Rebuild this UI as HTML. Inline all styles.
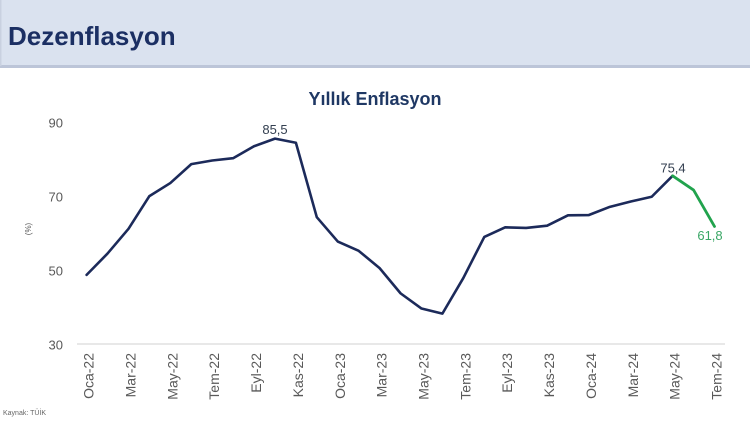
<!DOCTYPE html>
<html>
<head>
<meta charset="utf-8">
<style>
  html,body{margin:0;padding:0;background:#fff;}
  body{width:750px;height:421px;overflow:hidden;}
  svg{display:block;}
  text{font-family:"Liberation Sans",Arial,sans-serif;}
</style>
</head>
<body>
<svg width="750" height="421" viewBox="0 0 750 421" xmlns="http://www.w3.org/2000/svg">
  <!-- header -->
  <rect x="0" y="0" width="750" height="66" fill="#dae2ef"/>
  <rect x="0" y="65" width="750" height="3" fill="#bcc5d8"/>
  <rect x="0" y="0" width="1.5" height="66" fill="#c9d1e0"/>
  <text x="8" y="45" font-size="26" font-weight="bold" fill="#1b2f63">Dezenflasyon</text>

  <!-- chart title -->
  <text x="375" y="105" font-size="18" font-weight="bold" fill="#1f3864" text-anchor="middle">Yıllık Enflasyon</text>

  <!-- y axis labels -->
  <g font-size="13" fill="#595959" text-anchor="end">
    <text x="63" y="127.5">90</text>
    <text x="63" y="201.5">70</text>
    <text x="63" y="275.5">50</text>
    <text x="63" y="349.5">30</text>
  </g>
  <text transform="translate(31,229) rotate(-90)" font-size="8" fill="#595959" text-anchor="middle">(%)</text>

  <!-- x axis line -->
  <line x1="77" y1="344" x2="725" y2="344" stroke="#d9d9d9" stroke-width="1.2"/>

  <!-- x labels -->
  <g font-size="14" fill="#595959" text-anchor="end">
    <text transform="translate(93.5,353) rotate(-90)">Oca-22</text>
    <text transform="translate(135.4,353) rotate(-90)">Mar-22</text>
    <text transform="translate(177.3,353) rotate(-90)">May-22</text>
    <text transform="translate(219.2,353) rotate(-90)">Tem-22</text>
    <text transform="translate(261.0,353) rotate(-90)">Eyl-22</text>
    <text transform="translate(302.9,353) rotate(-90)">Kas-22</text>
    <text transform="translate(344.8,353) rotate(-90)">Oca-23</text>
    <text transform="translate(386.6,353) rotate(-90)">Mar-23</text>
    <text transform="translate(428.5,353) rotate(-90)">May-23</text>
    <text transform="translate(470.3,353) rotate(-90)">Tem-23</text>
    <text transform="translate(512.2,353) rotate(-90)">Eyl-23</text>
    <text transform="translate(554.1,353) rotate(-90)">Kas-23</text>
    <text transform="translate(595.9,353) rotate(-90)">Oca-24</text>
    <text transform="translate(637.8,353) rotate(-90)">Mar-24</text>
    <text transform="translate(679.6,353) rotate(-90)">May-24</text>
    <text transform="translate(721.5,353) rotate(-90)">Tem-24</text>
  </g>

  <!-- navy series -->
  <polyline fill="none" stroke="#1c2a5a" stroke-width="2.6" stroke-linejoin="round" stroke-linecap="round"
    points="86.6,274.85 107.5,253.57 128.5,228.78 149.4,196.11 170.3,183.05 191.3,164.11 212.2,160.48 233.1,158.22 254.0,146.23 275.0,138.61 295.9,142.76 316.8,217.2 337.8,241.58 358.7,250.83 379.6,268.11 400.6,293.38 421.5,308.52 442.4,313.62 463.3,278.03 484.3,236.92 505.2,227.34 526.1,227.97 547.1,225.67 568.0,215.35 588.9,215.02 609.9,206.84 630.8,201.55 651.7,196.74 672.6,175.83"/>
  <!-- green series -->
  <polyline fill="none" stroke="#21a34d" stroke-width="2.8" stroke-linejoin="round" stroke-linecap="round"
    points="672.6,175.83 693.6,190.08 714.5,226.41"/>

  <!-- data labels -->
  <text x="275" y="134" font-size="13" fill="#333f50" text-anchor="middle">85,5</text>
  <text x="673" y="172.5" font-size="13" fill="#333f50" text-anchor="middle">75,4</text>
  <text x="710" y="240" font-size="13" fill="#3aa766" text-anchor="middle">61,8</text>

  <!-- source -->
  <text x="3" y="415" font-size="7" fill="#666">Kaynak: TÜİK</text>
</svg>
</body>
</html>
